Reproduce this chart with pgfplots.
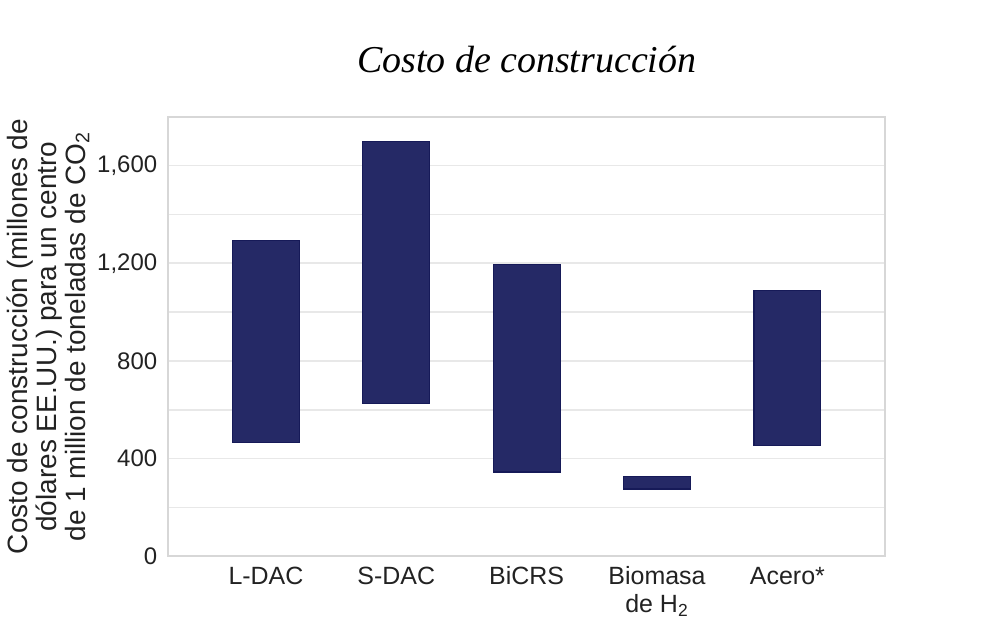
\documentclass[border=0pt]{standalone}
\usepackage{pgfplots}
\usepackage{pgfplotstable}
\pgfplotsset{compat=1.18}
\usepackage{fontspec}
\setmainfont{Liberation Sans}
\newfontfamily\titlefont{Liberation Serif}

\definecolor{barfill}{RGB}{37,41,102}
\definecolor{baredge}{RGB}{22,26,88}
\definecolor{gridgray}{RGB}{232,232,232}
\definecolor{framegray}{RGB}{215,215,215}
\definecolor{textgray}{RGB}{34,34,34}

% range of construction cost per technology (low, high)
\pgfplotstableread{
x low high
0 465 1295
1 625 1700
2 345 1195
3 275 328
4 455 1090
}\costs

\begin{document}
\begin{tikzpicture}
\begin{axis}[
    scale only axis,
    width=359pt, height=220pt,
    ybar stacked,
    bar width=33.5pt,
    xmin=-0.75, xmax=4.75,
    ymin=0, ymax=1800,
    xtick=data,
    xticklabels={\strut L-DAC,\strut S-DAC,\strut BiCRS,\strut Biomasa\\de H\textsubscript{2},\strut Acero*},
    xticklabel style={align=center, font=\fontsize{12.5}{14}\selectfont, text=textgray, yshift=-1pt},
    ytick={0,400,800,1200,1600},
    minor ytick={200,600,1000,1400},
    yticklabel style={font=\fontsize{12}{14}\selectfont, text=textgray, xshift=-2pt},
    /pgf/number format/assume math mode=true,
    /pgf/number format/1000 sep={,},
    major tick length=0pt, minor tick length=0pt,
    ymajorgrids, yminorgrids,
    major grid style={gridgray, line width=0.8pt},
    minor grid style={gridgray, line width=0.8pt},
    axis line style={framegray, line width=0.8pt},
    ylabel={Costo de construcción (millones de\\dólares EE.UU.) para un centro\\de 1 million de toneladas de CO\textsubscript{2}},
    ylabel style={align=center, font=\fontsize{14}{14.5}\selectfont, text=textgray},
    ylabel shift=-3pt,
    title={\titlefont\itshape Costo de construcción},
    title style={at={(0.5,1)}, anchor=base, yshift=16pt, font=\fontsize{19}{23}\selectfont},
]
\addplot[draw=none, fill=none] table[x=x, y=low] {\costs};
\addplot[fill=barfill, draw=baredge, line width=0.6pt] table[x=x, y expr=\thisrow{high}-\thisrow{low}] {\costs};
\end{axis}
\path (current axis.south west) ++(-83.5pt,-30pt) rectangle ++(500pt,308.5pt);
\end{tikzpicture}
\end{document}
